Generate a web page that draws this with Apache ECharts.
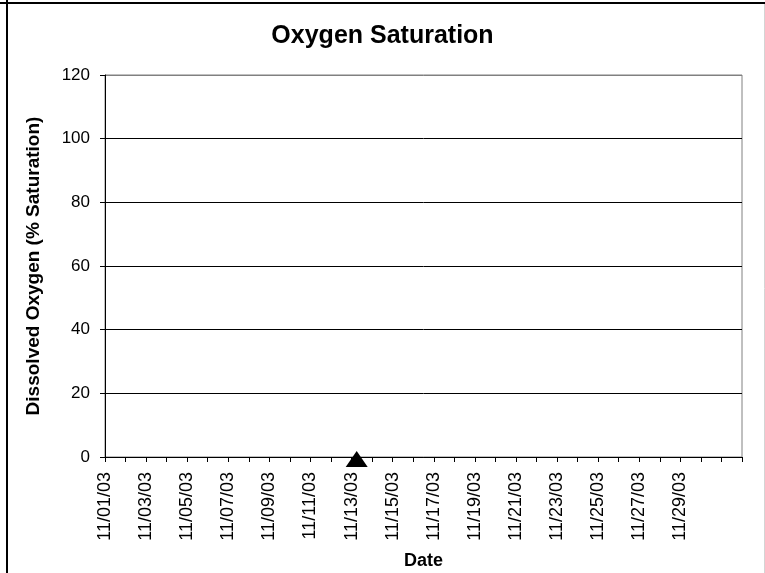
<!DOCTYPE html>
<html>
<head>
<meta charset="utf-8">
<script src="https://cdn.jsdelivr.net/npm/echarts@6/dist/echarts.min.js"></script>
<style>
  html, body { margin: 0; padding: 0; background: #fff; }
  #chart { width: 765px; height: 573px; }
</style>
</head>
<body>
<div id="chart"></div>
<script>
// one tick per day, day 1 = 11/01/03 .. day 32 = 12/02/03
var dates = ['11/01/03','11/02/03','11/03/03','11/04/03','11/05/03','11/06/03','11/07/03','11/08/03',
             '11/09/03','11/10/03','11/11/03','11/12/03','11/13/03','11/14/03','11/15/03','11/16/03',
             '11/17/03','11/18/03','11/19/03','11/20/03','11/21/03','11/22/03','11/23/03','11/24/03',
             '11/25/03','11/26/03','11/27/03','11/28/03','11/29/03','11/30/03','12/01/03','12/02/03'];
// dates that get a label
var tickLabels = ['11/01/03','11/03/03','11/05/03','11/07/03','11/09/03','11/11/03','11/13/03','11/15/03',
                  '11/17/03','11/19/03','11/21/03','11/23/03','11/25/03','11/27/03','11/29/03'];
var yTicks = [0, 20, 40, 60, 80, 100, 120];

// measurements: day on the axis (11/13/03, late in the day) and % saturation
var sampleDays = [13.25];
var oxygenValues = [0];

var font = 'Liberation Sans, Arial, sans-serif';

var option = {
    animation: false,
    backgroundColor: '#fff',
    title: {
        text: 'Oxygen Saturation',
        left: 'center',
        top: 19,
        textStyle: { fontFamily: font, fontSize: 25, fontWeight: 'bold', color: '#000' }
    },
    grid: {
        left: 105, right: 23, top: 75, bottom: 116,
        outerBoundsMode: 'none',
        show: true, borderColor: '#808080', borderWidth: 1
    },
    xAxis: {
        type: 'value',
        min: 1,
        max: dates.length,
        interval: 1,
        name: 'Date',
        nameLocation: 'middle',
        nameGap: 95,
        nameTextStyle: { fontFamily: font, fontSize: 18, fontWeight: 'bold', color: '#000' },
        axisLine: { show: true, onZero: false, lineStyle: { color: '#000', width: 1 } },
        axisTick: { show: true, length: 5, lineStyle: { color: '#000' } },
        axisLabel: {
            rotate: 90,
            margin: 15,
            showMinLabel: true,
            showMaxLabel: true,
            fontFamily: font, fontSize: 18, color: '#000',
            formatter: function (v) {
                var d = dates[Math.round(v) - 1];
                return tickLabels.indexOf(d) >= 0 ? d : '';
            }
        },
        splitLine: { show: false }
    },
    yAxis: {
        type: 'value',
        min: yTicks[0],
        max: yTicks[yTicks.length - 1],
        interval: 20,
        name: 'Dissolved Oxygen (% Saturation)',
        nameLocation: 'middle',
        nameGap: 62,
        nameTextStyle: { fontFamily: font, fontSize: 19, fontWeight: 'bold', color: '#000' },
        axisLine: { show: true, lineStyle: { color: '#000', width: 1 } },
        axisTick: { show: true, length: 5, lineStyle: { color: '#000' } },
        axisLabel: { margin: 15, fontFamily: font, fontSize: 17, color: '#000' },
        splitLine: {
            show: true,
            lineStyle: { color: ['#000', '#000', '#000', '#000', '#000', '#000', '#808080'], width: 1 }
        }
    },
    series: [{
        name: 'Oxygen Saturation',
        type: 'scatter',
        symbol: 'triangle',
        symbolSize: [22, 16],
        symbolOffset: [0, 2],
        clip: false,
        itemStyle: { color: '#000', opacity: 1 },
        data: sampleDays.map(function (d, i) { return [d, oxygenValues[i]]; })
    }],
    graphic: [
        { type: 'line', shape: { x1: 0, y1: 3, x2: 765, y2: 3 }, style: { stroke: '#000', lineWidth: 2 } },
        { type: 'line', shape: { x1: 7, y1: 0, x2: 7, y2: 573 }, style: { stroke: '#000', lineWidth: 2 } },
        { type: 'line', shape: { x1: 764.5, y1: 4, x2: 764.5, y2: 573 }, style: { stroke: '#d4d4d4', lineWidth: 1 } }
    ]
};

var myChart = echarts.init(document.getElementById('chart'));
myChart.setOption(option);
</script>
</body>
</html>
